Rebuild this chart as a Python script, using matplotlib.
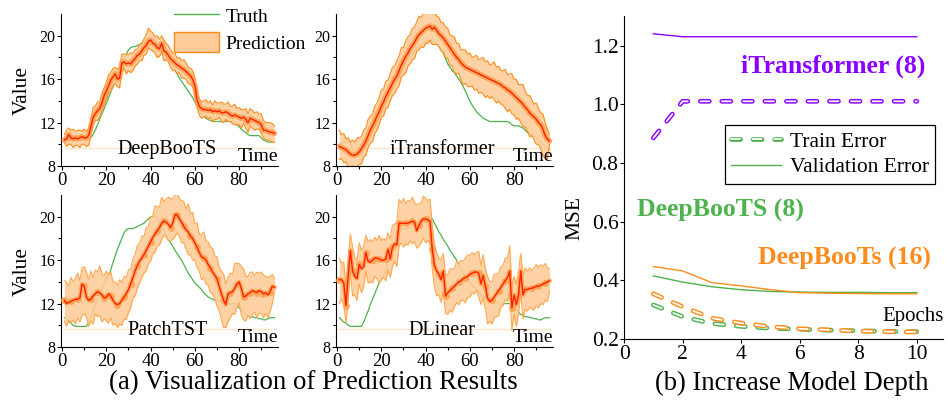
import matplotlib
matplotlib.use("Agg")
import matplotlib.pyplot as plt
import matplotlib.patheffects as pe
from matplotlib.lines import Line2D
from matplotlib.patches import Patch
import numpy as np

plt.rcParams['font.family'] = ['Liberation Serif', 'DejaVu Serif']
plt.rcParams['lines.scale_dashes'] = False

t = list(range(1, 97))

# ---- (a) prediction panels ----
deepboots_pred = [10.4, 10.5, 10.9, 10.6, 10.5, 10.6, 10.5, 10.6, 10.7, 10.6, 10.6, 10.8,
                  11.6, 12.5, 12.8, 13.1, 13.3, 13.8, 14.5, 14.9, 15.4, 15.9, 16.2, 16.5,
                  16.0, 16.1, 17.5, 17.6, 17.4, 17.5, 17.4, 17.7, 17.9, 18.2, 18.3, 18.6,
                  18.9, 19.1, 19.5, 19.6, 19.3, 19.2, 18.9, 18.8, 19.3, 18.6, 18.5, 18.2,
                  17.9, 17.7, 17.5, 17.3, 17.2, 17.0, 16.9, 16.7, 16.5, 16.3, 16.0, 15.4,
                  14.1, 13.5, 13.3, 13.2, 13.2, 13.1, 13.2, 13.0, 13.1, 13.0, 13.1, 12.9,
                  12.9, 13.0, 12.9, 12.7, 12.6, 12.7, 12.6, 12.5, 12.4, 12.5, 12.3, 12.0,
                  12.4, 12.3, 12.2, 12.1, 12.0, 11.8, 11.3, 11.3, 11.2, 11.1, 11.1, 11.0]
deepboots_up = [0.5, 0.8, 0.6, 0.7, 0.9, 0.6, 0.8, 0.7, 0.5, 0.8, 0.6, 0.7,
                0.6, 0.9, 0.7, 0.8, 0.6, 0.9, 0.7, 0.8, 1.0, 0.7, 0.8, 0.6,
                0.9, 1.0, 0.8, 0.7, 0.9, 0.8, 1.0, 0.7, 0.8, 0.6, 0.9, 0.7,
                0.8, 1.0, 1.2, 0.8, 1.0, 0.7, 1.1, 0.9, 0.7, 1.0, 0.8, 0.9,
                0.8, 0.7, 0.9, 0.6, 0.8, 0.7, 0.9, 0.8, 0.6, 0.7, 0.8, 0.7,
                0.8, 0.7, 0.6, 0.8, 0.9, 0.7, 0.8, 0.6, 0.9, 0.8, 0.7, 1.0,
                0.8, 0.7, 1.0, 0.8, 0.9, 1.0, 0.7, 0.9, 0.8, 0.7, 1.0, 0.8,
                0.9, 0.8, 0.7, 0.9, 0.8, 1.0, 0.9, 0.7, 0.8, 0.9, 0.8, 0.7]
deepboots_dn = [0.2, 0.7, 0.9, 0.6, 0.8, 0.7, 0.6, 0.9, 0.7, 0.6, 0.8, 0.9,
                0.8, 0.7, 0.6, 0.9, 0.8, 0.7, 0.9, 0.8, 0.7, 1.0, 0.8, 0.9,
                0.7, 0.9, 0.8, 0.6, 0.9, 0.7, 0.8, 0.9, 0.7, 0.8, 0.6, 0.9,
                0.7, 0.8, 0.6, 0.9, 0.7, 0.8, 0.9, 0.7, 0.8, 0.9, 0.7, 0.6,
                0.8, 0.9, 0.7, 0.8, 0.6, 0.9, 0.8, 0.7, 0.9, 0.8, 0.7, 0.9,
                0.7, 0.8, 0.9, 0.7, 0.6, 0.8, 0.7, 0.9, 0.8, 0.7, 0.6, 0.8,
                0.9, 0.7, 0.8, 0.6, 0.7, 0.9, 0.8, 0.7, 0.9, 0.6, 0.8, 0.9,
                0.7, 0.8, 0.9, 0.7, 0.6, 0.8, 0.7, 0.9, 0.8, 0.8, 0.9, 0.8]
deepboots_truth = [10.4] * 12 + [
    10.6, 10.9, 11.3, 11.8, 12.3, 12.8, 13.3, 13.8, 14.3, 14.8, 15.3, 15.8,
    16.3, 16.8, 17.3, 17.8, 18.3, 18.7, 18.9, 19.0, 19.0, 19.1, 19.2, 19.3,
    19.4, 19.5, 19.6, 19.6, 19.5, 19.4, 19.2, 19.0, 18.7, 18.4, 18.1, 17.8,
    17.5, 17.2, 16.9, 16.5, 16.1, 15.8, 15.5, 15.2, 14.9, 14.6, 14.3, 13.9,
    13.5, 13.1, 12.8, 12.6, 12.4, 12.3, 12.2, 12.1, 12.1, 12.1, 12.1, 12.1,
    12.1, 12.1, 12.1, 12.1, 12.1, 12.0, 11.8, 11.6, 11.4, 11.2, 11.1, 10.9,
    10.8, 10.8, 10.8, 10.8, 10.8, 10.6, 10.4, 10.3, 10.2, 10.2, 10.2, 10.2]

itrans_pred = [9.8, 9.7, 9.6, 9.5, 9.3, 9.1, 9.0, 9.0, 9.1, 9.3, 9.6, 9.9,
               10.3, 10.8, 11.3, 11.7, 12.1, 12.6, 13.0, 13.5, 13.9, 14.4, 14.8, 15.2,
               15.6, 16.0, 16.3, 16.8, 17.3, 17.7, 18.1, 18.4, 18.8, 19.1, 19.4, 19.8,
               20.1, 20.3, 20.5, 20.7, 20.8, 20.9, 20.6, 20.8, 20.5, 20.2, 20.0, 19.8,
               19.5, 19.2, 18.9, 18.6, 18.3, 18.0, 17.8, 17.5, 17.3, 17.1, 17.0, 16.9,
               16.8, 16.7, 16.6, 16.5, 16.4, 16.3, 16.2, 16.1, 16.0, 15.9, 15.8, 15.7,
               15.6, 15.5, 15.3, 15.2, 15.0, 14.9, 14.7, 14.5, 14.3, 14.1, 13.9, 13.7,
               13.4, 13.2, 12.9, 12.7, 12.5, 12.3, 12.0, 11.8, 11.4, 10.8, 10.5, 10.3]
itrans_up = [1.5, 1.2, 1.4, 1.0, 1.3, 1.1, 1.4, 1.2, 1.5, 1.3, 1.1, 1.4,
             1.2, 1.5, 1.3, 1.1, 1.4, 1.2, 1.3, 1.5, 1.2, 1.4, 1.1, 1.3,
             1.5, 1.2, 1.4, 1.3, 1.6, 1.2, 1.4, 1.5, 1.3, 1.6, 1.4, 1.5,
             1.7, 1.4, 1.6, 1.8, 1.5, 1.7, 1.4, 1.6, 1.3, 1.5, 1.2, 1.4,
             1.3, 1.5, 1.2, 1.4, 1.6, 1.3, 1.5, 1.2, 1.4, 1.6, 1.3, 1.5,
             1.2, 1.4, 1.6, 1.3, 1.5, 1.7, 1.4, 1.6, 1.3, 1.5, 1.8, 1.4,
             1.6, 1.3, 1.5, 1.7, 1.4, 1.6, 1.8, 1.5, 1.7, 1.4, 1.6, 1.8,
             1.5, 1.3, 1.6, 1.4, 1.2, 1.5, 1.3, 1.1, 1.4, 1.2, 0.9, 0.6]
itrans_dn = [1.2, 1.0, 1.3, 1.1, 1.4, 1.2, 1.0, 1.3, 1.1, 1.2, 1.4, 1.1,
             1.3, 1.1, 1.2, 1.4, 1.1, 1.3, 1.2, 1.0, 1.3, 1.1, 1.4, 1.2,
             1.1, 1.3, 1.2, 1.4, 1.1, 1.3, 1.5, 1.2, 1.4, 1.3, 1.5, 1.2,
             1.4, 1.3, 1.6, 1.4, 1.5, 1.3, 1.4, 1.6, 1.3, 1.2, 1.4, 1.3,
             1.5, 1.3, 1.6, 1.4, 1.7, 1.5, 1.3, 1.6, 1.8, 1.5, 1.7, 1.6,
             1.4, 1.7, 1.5, 1.8, 1.6, 1.7, 1.9, 1.6, 1.8, 1.5, 1.7, 1.9,
             1.6, 1.8, 1.7, 1.9, 2.0, 1.7, 1.9, 1.8, 2.0, 1.7, 1.9, 2.1,
             1.8, 2.0, 2.2, 1.9, 2.1, 2.3, 2.0, 2.2, 2.4, 2.1, 1.9, 0.3]
itrans_truth = [10.0, 10.1, 10.2, 10.2, 10.3, 10.1, 9.6, 9.2, 9.1, 9.2, 9.4, 9.7,
                10.0, 10.4, 10.8, 11.2, 11.6, 12.0, 12.4, 12.8, 13.3, 13.8, 14.2, 14.6,
                15.0, 15.4, 15.8, 16.2, 16.6, 17.0, 17.4, 17.7, 18.0, 18.3, 18.6, 18.9,
                19.1, 19.2, 19.3, 19.4, 19.4, 19.5, 19.5, 19.4, 19.3, 19.1, 18.8, 18.4,
                17.9, 17.4, 17.1, 16.8, 16.6, 16.3, 16.0, 15.7, 15.3, 14.9, 14.4, 14.0,
                13.6, 13.3, 13.0, 12.8, 12.6, 12.4, 12.3, 12.2, 12.1, 12.1, 12.1, 12.1,
                12.1, 12.1, 12.1, 12.1, 12.1, 12.0, 11.8, 11.7, 11.7, 11.7, 11.6, 11.5,
                11.3, 11.1, 11.0, 10.8, 10.7, 10.6, 10.4, 10.2, 10.0, 9.8, 9.6, 9.5]

patch_pred = [12.3, 12.0, 12.1, 12.2, 12.3, 12.4, 12.4, 12.5, 13.8, 13.6, 12.6, 12.3,
              12.4, 12.7, 12.9, 13.1, 13.0, 12.8, 12.5, 12.6, 12.9, 12.7, 12.3, 12.0,
              11.9, 12.0, 12.3, 12.6, 12.9, 13.3, 13.8, 14.4, 15.0, 15.5, 15.9, 16.2,
              16.5, 16.9, 17.3, 17.7, 18.1, 18.4, 18.7, 19.0, 19.4, 19.6, 19.5, 19.3,
              19.0, 19.4, 20.2, 20.2, 19.8, 19.5, 19.1, 18.8, 18.6, 18.2, 18.0, 17.6,
              17.2, 16.7, 16.3, 16.2, 16.0, 15.6, 15.3, 14.9, 14.6, 14.3, 13.6, 12.9,
              12.3, 11.9, 12.9, 13.0, 13.1, 13.4, 13.8, 14.0, 13.4, 12.6, 12.7, 12.9,
              13.0, 13.2, 13.1, 13.0, 13.2, 13.1, 12.9, 13.0, 12.8, 13.1, 13.6, 13.5]
patch_up = [1.8, 2.0, 1.5, 2.2, 1.7, 1.9, 2.4, 1.6, 1.5, 1.8, 2.3, 1.9,
            2.6, 1.7, 2.2, 1.8, 2.5, 1.9, 2.1, 2.4, 1.8, 2.2, 1.7, 2.0,
            1.8, 2.2, 1.6, 1.9, 1.5, 1.8, 1.4, 1.7, 1.5, 1.9, 1.6, 2.0,
            1.7, 2.1, 1.8, 2.3, 2.0, 2.6, 2.2, 1.9, 2.4, 1.8, 2.1, 2.5,
            2.7, 2.2, 1.9, 2.4, 1.8, 2.0, 2.3, 1.9, 2.6, 2.1, 2.4, 1.8,
            2.2, 1.7, 2.0, 2.4, 1.8, 2.1, 1.9, 2.2, 1.8, 2.0, 1.7, 2.1,
            2.4, 1.9, 1.5, 1.8, 1.6, 2.3, 1.9, 1.7, 2.0, 2.6, 1.8, 1.6,
            1.9, 1.7, 1.5, 1.9, 1.6, 1.8, 1.7, 1.5, 1.6, 1.4, 1.1, 0.8]
patch_dn = [1.9, 2.1, 1.6, 2.0, 1.8, 2.3, 1.7, 2.2, 2.9, 2.5, 1.9, 2.4,
            2.0, 2.6, 1.8, 2.3, 2.1, 2.5, 1.9, 2.2, 2.7, 2.0, 2.3, 1.8,
            2.1, 1.9, 2.3, 2.0, 2.4, 2.1, 2.2, 1.9, 2.3, 2.1, 2.0, 1.8,
            1.7, 1.9, 1.6, 1.8, 1.5, 1.7, 1.4, 1.6, 1.5, 1.3, 1.4, 1.5,
            1.2, 1.5, 2.0, 1.7, 1.6, 1.9, 1.5, 1.8, 2.1, 1.7, 2.0, 1.6,
            1.9, 1.7, 2.1, 1.8, 2.2, 1.9, 2.3, 2.0, 2.2, 2.5, 2.3, 2.4,
            2.5, 2.1, 2.6, 2.3, 2.0, 2.4, 2.2, 1.9, 2.5, 2.1, 2.3, 2.0,
            2.4, 2.2, 1.9, 2.3, 2.1, 2.0, 2.2, 1.9, 2.1, 1.8, 1.6, 0.4]

dlinear_pred = [14.2, 14.2, 13.9, 11.8, 14.5, 16.9, 15.0, 14.5, 14.3, 15.6, 15.2, 15.4,
                16.7, 15.9, 15.8, 16.0, 16.2, 16.2, 16.1, 16.0, 16.0, 16.1, 17.0, 16.1,
                17.2, 17.5, 17.4, 19.4, 19.4, 19.4, 19.4, 19.4, 19.5, 19.6, 19.5, 18.7,
                19.2, 19.6, 19.8, 19.8, 19.7, 19.6, 17.0, 15.5, 15.0, 14.7, 14.2, 15.0,
                12.7, 13.0, 13.2, 13.4, 13.6, 13.8, 14.0, 14.1, 14.3, 14.4, 14.5, 14.7,
                14.8, 14.9, 14.9, 14.8, 13.8, 14.6, 13.6, 12.5, 12.2, 12.3, 12.6, 12.9,
                13.2, 13.5, 13.8, 14.1, 14.4, 15.0, 11.6, 12.8, 11.9, 12.8, 15.0, 12.8,
                13.3, 13.3, 13.4, 13.4, 13.5, 13.6, 13.6, 13.7, 13.8, 13.9, 14.0, 14.1]
dlinear_up = [2.0, 1.6, 1.9, 1.8, 1.7, 1.5, 2.2, 1.8, 1.6, 2.0, 1.7, 1.9,
              1.6, 1.8, 2.1, 1.7, 1.9, 1.6, 2.2, 1.8, 2.0, 1.7, 1.5, 1.9,
              2.0, 1.8, 2.1, 2.2, 1.9, 2.3, 1.8, 2.1, 1.9, 2.2, 1.8, 2.4,
              2.0, 1.7, 2.1, 1.9, 1.8, 2.0, 2.2, 1.9, 1.7, 1.5, 1.8, 1.6,
              1.9, 1.7, 2.0, 1.8, 1.6, 2.1, 1.7, 1.9, 1.6, 1.8, 2.0, 1.7,
              1.9, 1.6, 1.8, 2.0, 1.7, 1.9, 1.6, 2.0, 1.8, 1.7, 2.1, 1.8,
              1.6, 1.9, 1.7, 2.1, 1.8, 2.3, 2.0, 1.7, 1.9, 2.2, 1.6, 1.8,
              2.0, 1.7, 1.9, 1.6, 1.8, 2.0, 1.7, 1.9, 1.6, 1.8, 1.3, 1.1]
dlinear_dn = [2.2, 1.8, 2.0, 1.6, 2.1, 1.9, 2.3, 1.7, 2.0, 1.8, 2.2, 1.9,
              1.7, 2.0, 1.8, 2.1, 1.7, 1.9, 2.2, 1.8, 1.6, 2.0, 1.9, 1.7,
              1.8, 1.6, 2.0, 2.1, 1.8, 2.2, 1.9, 2.0, 1.7, 2.1, 1.8, 1.6,
              1.9, 2.0, 1.8, 2.2, 1.9, 2.1, 1.8, 2.0, 2.3, 1.9, 2.1, 1.8,
              1.6, 2.0, 1.8, 2.2, 1.9, 1.7, 2.1, 1.8, 2.0, 2.3, 1.9, 2.1,
              1.8, 2.0, 1.7, 2.2, 1.9, 2.1, 2.0, 2.4, 1.8, 2.2, 1.9, 2.1,
              2.3, 1.8, 2.0, 1.7, 2.2, 1.9, 2.1, 1.8, 2.0, 1.7, 1.9, 2.2,
              1.8, 2.0, 1.7, 1.9, 2.1, 1.8, 2.0, 1.7, 1.9, 1.6, 1.8, 1.0]
# PatchTST and DLinear share the same ground truth window
shared_truth = [10.7, 10.5, 10.3, 10.2, 10.0, 9.9, 9.9, 9.9, 9.9, 9.9, 9.9, 10.3,
                10.8, 11.3, 11.9, 12.4, 12.9, 13.4, 13.9, 14.3, 14.6, 15.1, 15.8, 16.4,
                17.0, 17.5, 18.0, 18.5, 18.8, 18.9, 18.9, 18.9, 19.0, 19.1, 19.2, 19.3,
                19.4, 19.6, 19.8, 20.0, 20.0, 20.1, 19.8, 19.4, 19.0, 18.6, 18.3, 17.9,
                17.6, 17.3, 16.9, 16.6, 16.3, 16.0, 15.6, 15.2, 14.8, 14.5, 14.2, 13.9,
                13.7, 13.5, 13.3, 13.0, 12.8, 12.6, 12.5, 12.4, 12.3, 12.3, 12.2, 12.1,
                12.1, 12.0, 12.0, 12.0, 12.0, 12.0, 11.9, 11.6, 11.4, 11.2, 11.0, 10.9,
                10.8, 10.8, 10.7, 10.7, 10.6, 10.6, 10.5, 10.5, 10.6, 10.7, 10.7, 10.7]

panel_names = ['DeepBooTS', 'iTransformer', 'PatchTST', 'DLinear']
panel_pred = [deepboots_pred, itrans_pred, patch_pred, dlinear_pred]
panel_up = [deepboots_up, itrans_up, patch_up, dlinear_up]
panel_dn = [deepboots_dn, itrans_dn, patch_dn, dlinear_dn]
panel_truth = [deepboots_truth, itrans_truth, shared_truth, shared_truth]

# ---- (b) depth panel ----
epochs = [1, 2, 3, 4, 5, 6, 7, 8, 9, 10]
itrans8_train = [0.885, 1.01, 1.01, 1.01, 1.01, 1.01, 1.01, 1.01, 1.01, 1.01]
itrans8_val = [1.24, 1.23, 1.23, 1.23, 1.23, 1.23, 1.23, 1.23, 1.23, 1.23]
db8_train = [0.316, 0.276, 0.253, 0.243, 0.237, 0.233, 0.230, 0.228, 0.226, 0.225]
db8_val = [0.415, 0.394, 0.378, 0.368, 0.362, 0.360, 0.359, 0.359, 0.358, 0.358]
db16_train = [0.354, 0.310, 0.271, 0.254, 0.242, 0.235, 0.231, 0.227, 0.225, 0.224]
db16_val = [0.447, 0.432, 0.392, 0.381, 0.368, 0.358, 0.356, 0.355, 0.354, 0.354]

GREEN = '#4DB34D'
ORANGE = '#FF8C1A'
PURPLE = '#8C00FF'
FILL = '#FFCC99'

fig = plt.figure(figsize=(9.47, 4.01), dpi=100)

boxes = [(0.0644, 0.586), (0.3548, 0.586), (0.0644, 0.1347), (0.3548, 0.1347)]
for i, (x0, y0) in enumerate(boxes):
    ax = fig.add_axes([x0, y0, 0.229, 0.379])
    pred = np.array(panel_pred[i])
    hi = pred + np.array(panel_up[i])
    lo = pred - np.array(panel_dn[i])
    edge = ORANGE if i < 2 else '#FFA850'
    ax.plot([1, 96], [9.7, 9.7], color='#FFE3C8', lw=1.0, zorder=1)
    ax.plot(t, panel_truth[i], color=GREEN, lw=0.9, zorder=1.5)
    ax.fill_between(t, lo, hi, color=FILL, lw=0, alpha=0.88, zorder=2)
    ax.plot(t, hi, color=edge, lw=0.8, zorder=3)
    ax.plot(t, lo, color=edge, lw=0.8, zorder=3)
    if i < 2:
        ax.plot(t, pred, color='#FFA050', lw=4, alpha=0.85, zorder=4,
                solid_capstyle='round')
    else:
        ax.plot(t, pred, color='#FFA050', lw=3, alpha=0.85, zorder=4,
                marker='o', ms=5, markevery=3, mec='none')
    ax.plot(t, pred, color='#FF2000', lw=1.0, zorder=5)

    ax.set_xlim(-0.5, 97.5)
    ax.set_ylim(8, 22)
    ax.set_xticks([0, 20, 40, 60, 80])
    ax.set_xticks([10, 30, 50, 70, 90], minor=True)
    ax.set_yticks([8, 12, 16, 20])
    ax.set_yticks([10, 14, 18], minor=True)
    ax.tick_params(axis='x', labelsize=13.5, length=3, width=0.8, pad=1)
    ax.tick_params(axis='y', labelsize=11.5, length=3, width=0.8, pad=1)
    ax.tick_params(which='minor', length=2, width=0.8)
    for s in ['top', 'right']:
        ax.spines[s].set_visible(False)
    ax.text(0.49, 0.11, panel_names[i], transform=ax.transAxes, fontsize=14.5,
            ha='center', va='center', zorder=6)
    ax.text(0.91, 0.06, 'Time', transform=ax.transAxes, fontsize=14,
            ha='center', va='center', zorder=6, clip_on=False)

fig.text(0.023, 0.775, 'Value', rotation=90, fontsize=15.5, ha='center', va='center')
fig.text(0.023, 0.324, 'Value', rotation=90, fontsize=15.5, ha='center', va='center')

leg_a = fig.legend(handles=[Line2D([], [], color=GREEN, lw=1.0),
                            Patch(facecolor=FILL, edgecolor=ORANGE, lw=1.0)],
                   labels=['Truth', 'Prediction'], loc='upper left',
                   bbox_to_anchor=(0.182, 0.99), frameon=False, fontsize=14,
                   handlelength=2.3, handleheight=1.2, handletextpad=0.35,
                   labelspacing=0.3, borderpad=0.1, borderaxespad=0)

# right panel
axb = fig.add_axes([0.659, 0.1546, 0.337, 0.805])


def hollow(ax, x, y, color, z):
    ax.plot(x, y, color='white', lw=1.3, dashes=(6.5, 9), dash_capstyle='round',
            zorder=z,
            path_effects=[pe.Stroke(linewidth=3.4, foreground=color), pe.Normal()])


axb.plot(epochs, itrans8_val, color=PURPLE, lw=1.0, zorder=3)
axb.plot(epochs, db8_val, color=GREEN, lw=1.0, zorder=3)
axb.plot(epochs, db16_val, color=ORANGE, lw=1.0, zorder=3)
hollow(axb, epochs, itrans8_train, PURPLE, 4)
hollow(axb, epochs, db8_train, GREEN, 4)
hollow(axb, epochs, db16_train, ORANGE, 5)

axb.set_xlim(0, 10.9)
axb.set_ylim(0.2, 1.3)
axb.set_xticks([0, 2, 4, 6, 8, 10])
axb.set_yticks([0.2, 0.4, 0.6, 0.8, 1.0, 1.2])
axb.set_yticklabels(['0.2', '0.4', '0.6', '0.8', '1.0', '1.2'])
axb.tick_params(labelsize=15.5, length=3, width=0.8, pad=1)
for s in ['top', 'right']:
    axb.spines[s].set_visible(False)

axb.text(7.15, 1.13, 'iTransformer (8)', color=PURPLE, fontsize=18.5,
         fontweight='bold', ha='center', va='center')
axb.text(3.29, 0.639, 'DeepBooTS (8)', color=GREEN, fontsize=18.5,
         fontweight='bold', ha='center', va='center')
axb.text(7.54, 0.475, 'DeepBooTs (16)', color=ORANGE, fontsize=18.5,
         fontweight='bold', ha='center', va='center')
axb.text(9.86, 0.275, 'Epochs', fontsize=15, ha='center', va='center')

h_train = Line2D([], [], color='white', lw=1.3, dashes=(6.5, 9), dash_capstyle='round',
                 path_effects=[pe.Stroke(linewidth=3.4, foreground=GREEN), pe.Normal()])
h_val = Line2D([], [], color=GREEN, lw=1.0)
leg_b = fig.legend(handles=[h_train, h_val], labels=['Train Error', 'Validation Error'],
                   loc='upper left', bbox_to_anchor=(0.7656, 0.688), fontsize=15.5,
                   frameon=True, fancybox=False, edgecolor='black', framealpha=1,
                   handlelength=2.3, handletextpad=0.4, labelspacing=0.25,
                   borderpad=0.3, borderaxespad=0)
leg_b.get_frame().set_linewidth(0.9)

fig.text(0.607, 0.456, 'MSE', rotation=90, fontsize=15.5, ha='center', va='center')
fig.text(0.331, 0.045, '(a) Visualization of Prediction Results', fontsize=19.3,
         ha='center', va='center')
fig.text(0.836, 0.045, '(b) Increase Model Depth', fontsize=19.2,
         ha='center', va='center')

fig.savefig('out.png', dpi=100)
